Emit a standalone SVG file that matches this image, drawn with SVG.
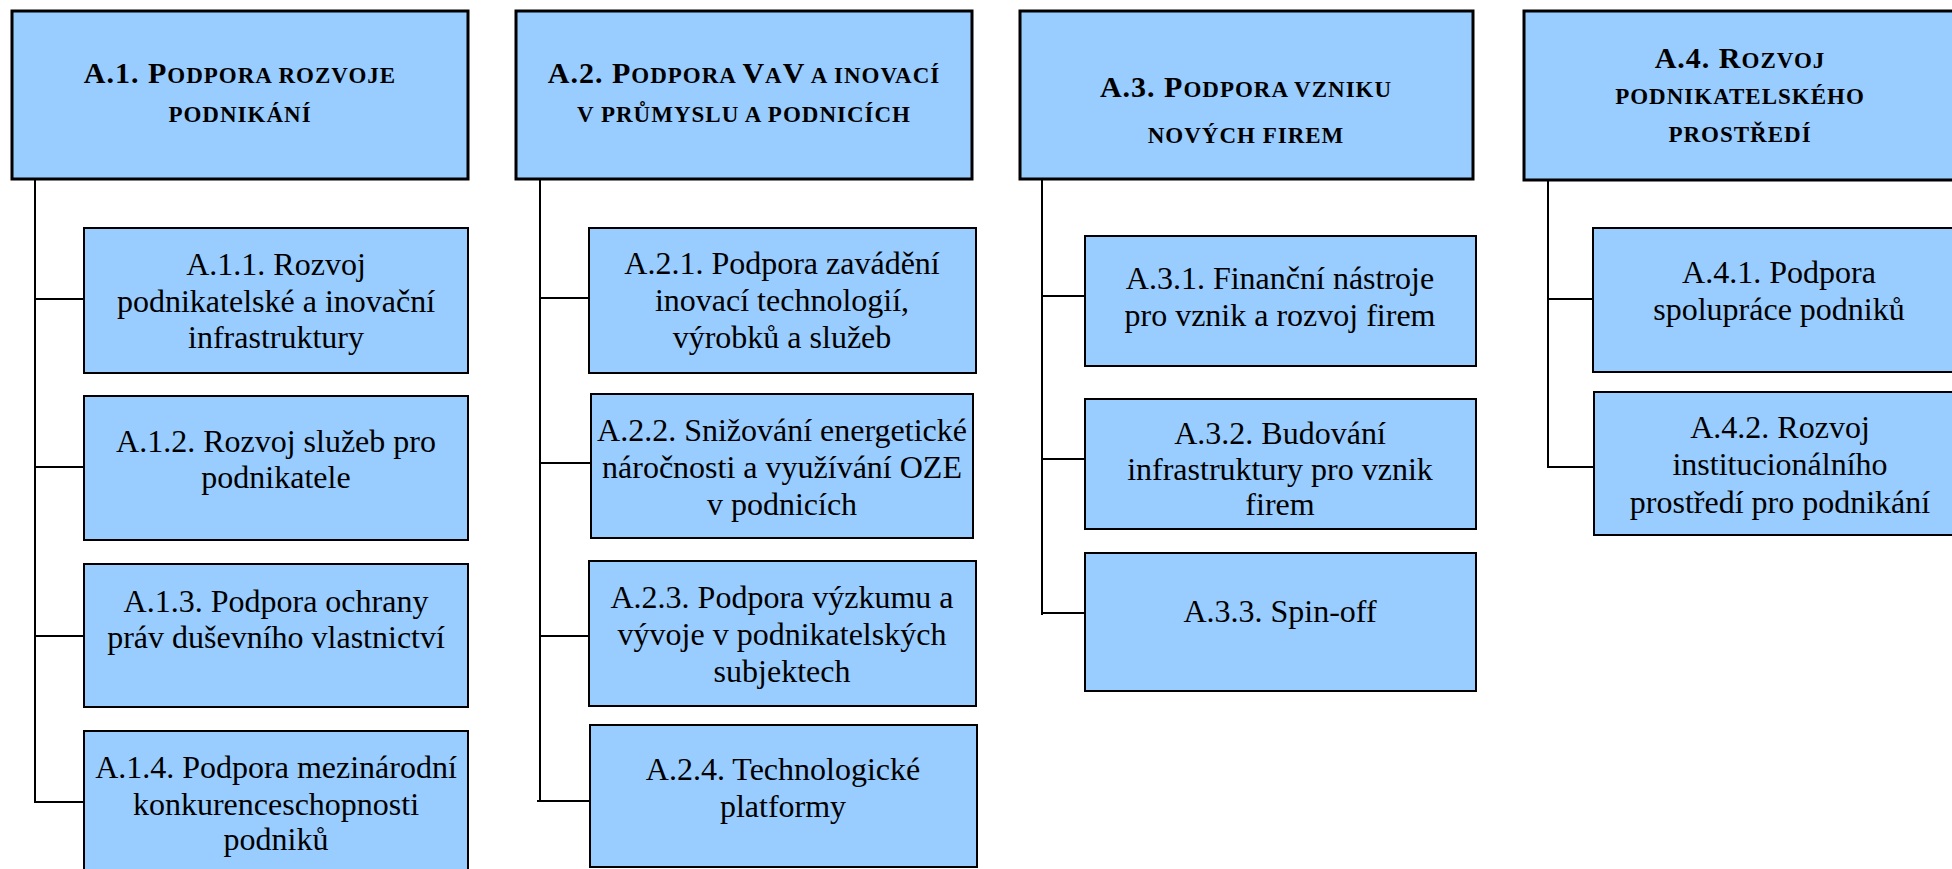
<svg xmlns="http://www.w3.org/2000/svg" width="1952" height="869" viewBox="0 0 1952 869">
<style>
.hdr{fill:#99CCFF;stroke:#000;stroke-width:3}
.box{fill:#99CCFF;stroke:#000;stroke-width:2}
.ht{font-family:"Liberation Serif","Times New Roman",serif;font-weight:bold;font-size:23px;letter-spacing:1px;text-anchor:middle;fill:#000}
.big{font-size:30px}
.t{font-family:"Liberation Serif","Times New Roman",serif;font-size:32px;text-anchor:middle;fill:#000}
.c{stroke:#000;stroke-width:2;fill:none}
</style>
<rect width="1952" height="869" fill="#fff"/>
<g id="connectors">
<path class="c" d="M35 180V803M35 299H84M35 467H84M35 636H84M35 802H84"/>
<path class="c" d="M540 180V802M540 298H589M540 463H591M540 636H589M537 801H590"/>
<path class="c" d="M1042 180V615M1042 296H1085M1042 459H1085M1041 613H1085"/>
<path class="c" d="M1548 181V468M1548 299H1593M1547 467H1594"/>
</g>
<g id="A1">
<rect class="hdr" x="12" y="11" width="456" height="168"/>
<text class="ht" x="240" y="83"><tspan class="big">A.1. P</tspan>ODPORA ROZVOJE</text>
<text class="ht" x="240" y="122">PODNIKÁNÍ</text>
</g>
<g id="A2">
<rect class="hdr" x="516" y="11" width="456" height="168"/>
<text class="ht" x="744" y="83"><tspan class="big">A.2. P</tspan>ODPORA <tspan class="big">V</tspan>A<tspan class="big">V</tspan> A INOVACÍ</text>
<text class="ht" x="744" y="122">V PRŮMYSLU A PODNICÍCH</text>
</g>
<g id="A3">
<rect class="hdr" x="1020" y="11" width="453" height="168"/>
<text class="ht" x="1246" y="97"><tspan class="big">A.3. P</tspan>ODPORA VZNIKU</text>
<text class="ht" x="1246" y="143">NOVÝCH FIREM</text>
</g>
<g id="A4">
<rect class="hdr" x="1524" y="11" width="440" height="169"/>
<text class="ht" x="1740" y="68"><tspan class="big">A.4. R</tspan>OZVOJ</text>
<text class="ht" x="1740" y="104">PODNIKATELSKÉHO</text>
<text class="ht" x="1740" y="142">PROSTŘEDÍ</text>
</g>
<g id="A11">
<rect class="box" x="84" y="228" width="384" height="145"/>
<text class="t" x="276" y="275">A.1.1. Rozvoj</text>
<text class="t" x="276" y="312">podnikatelské a inovační</text>
<text class="t" x="276" y="348">infrastruktury</text>
</g>
<g id="A12">
<rect class="box" x="84" y="396" width="384" height="144"/>
<text class="t" x="276" y="452">A.1.2. Rozvoj služeb pro</text>
<text class="t" x="276" y="488">podnikatele</text>
</g>
<g id="A13">
<rect class="box" x="84" y="564" width="384" height="143"/>
<text class="t" x="276" y="612">A.1.3. Podpora ochrany</text>
<text class="t" x="276" y="648">práv duševního vlastnictví</text>
</g>
<g id="A14">
<rect class="box" x="84" y="731" width="384" height="150"/>
<text class="t" x="276" y="778">A.1.4. Podpora mezinárodní</text>
<text class="t" x="276" y="815">konkurenceschopnosti</text>
<text class="t" x="276" y="850">podniků</text>
</g>
<g id="A21">
<rect class="box" x="589" y="228" width="387" height="145"/>
<text class="t" x="782" y="274">A.2.1. Podpora zavádění</text>
<text class="t" x="782" y="311">inovací technologií,</text>
<text class="t" x="782" y="348">výrobků a služeb</text>
</g>
<g id="A22">
<rect class="box" x="591" y="394" width="382" height="144"/>
<text class="t" x="782" y="441">A.2.2. Snižování energetické</text>
<text class="t" x="782" y="478">náročnosti a využívání OZE</text>
<text class="t" x="782" y="515">v podnicích</text>
</g>
<g id="A23">
<rect class="box" x="589" y="561" width="387" height="145"/>
<text class="t" x="782" y="608">A.2.3. Podpora výzkumu a</text>
<text class="t" x="782" y="645">vývoje v podnikatelských</text>
<text class="t" x="782" y="682">subjektech</text>
</g>
<g id="A24">
<rect class="box" x="590" y="725" width="387" height="142"/>
<text class="t" x="783" y="780">A.2.4. Technologické</text>
<text class="t" x="783" y="817">platformy</text>
</g>
<g id="A31">
<rect class="box" x="1085" y="236" width="391" height="130"/>
<text class="t" x="1280" y="289">A.3.1. Finanční nástroje</text>
<text class="t" x="1280" y="326">pro vznik a rozvoj firem</text>
</g>
<g id="A32">
<rect class="box" x="1085" y="399" width="391" height="130"/>
<text class="t" x="1280" y="444">A.3.2. Budování</text>
<text class="t" x="1280" y="480">infrastruktury pro vznik</text>
<text class="t" x="1280" y="515">firem</text>
</g>
<g id="A33">
<rect class="box" x="1085" y="553" width="391" height="138"/>
<text class="t" x="1280" y="622">A.3.3. Spin-off</text>
</g>
<g id="A41">
<rect class="box" x="1593" y="228" width="380" height="144"/>
<text class="t" x="1779" y="283">A.4.1. Podpora</text>
<text class="t" x="1779" y="320">spolupráce podniků</text>
</g>
<g id="A42">
<rect class="box" x="1594" y="392" width="380" height="143"/>
<text class="t" x="1780" y="438">A.4.2. Rozvoj</text>
<text class="t" x="1780" y="475">institucionálního</text>
<text class="t" x="1780" y="513">prostředí pro podnikání</text>
</g>
</svg>
